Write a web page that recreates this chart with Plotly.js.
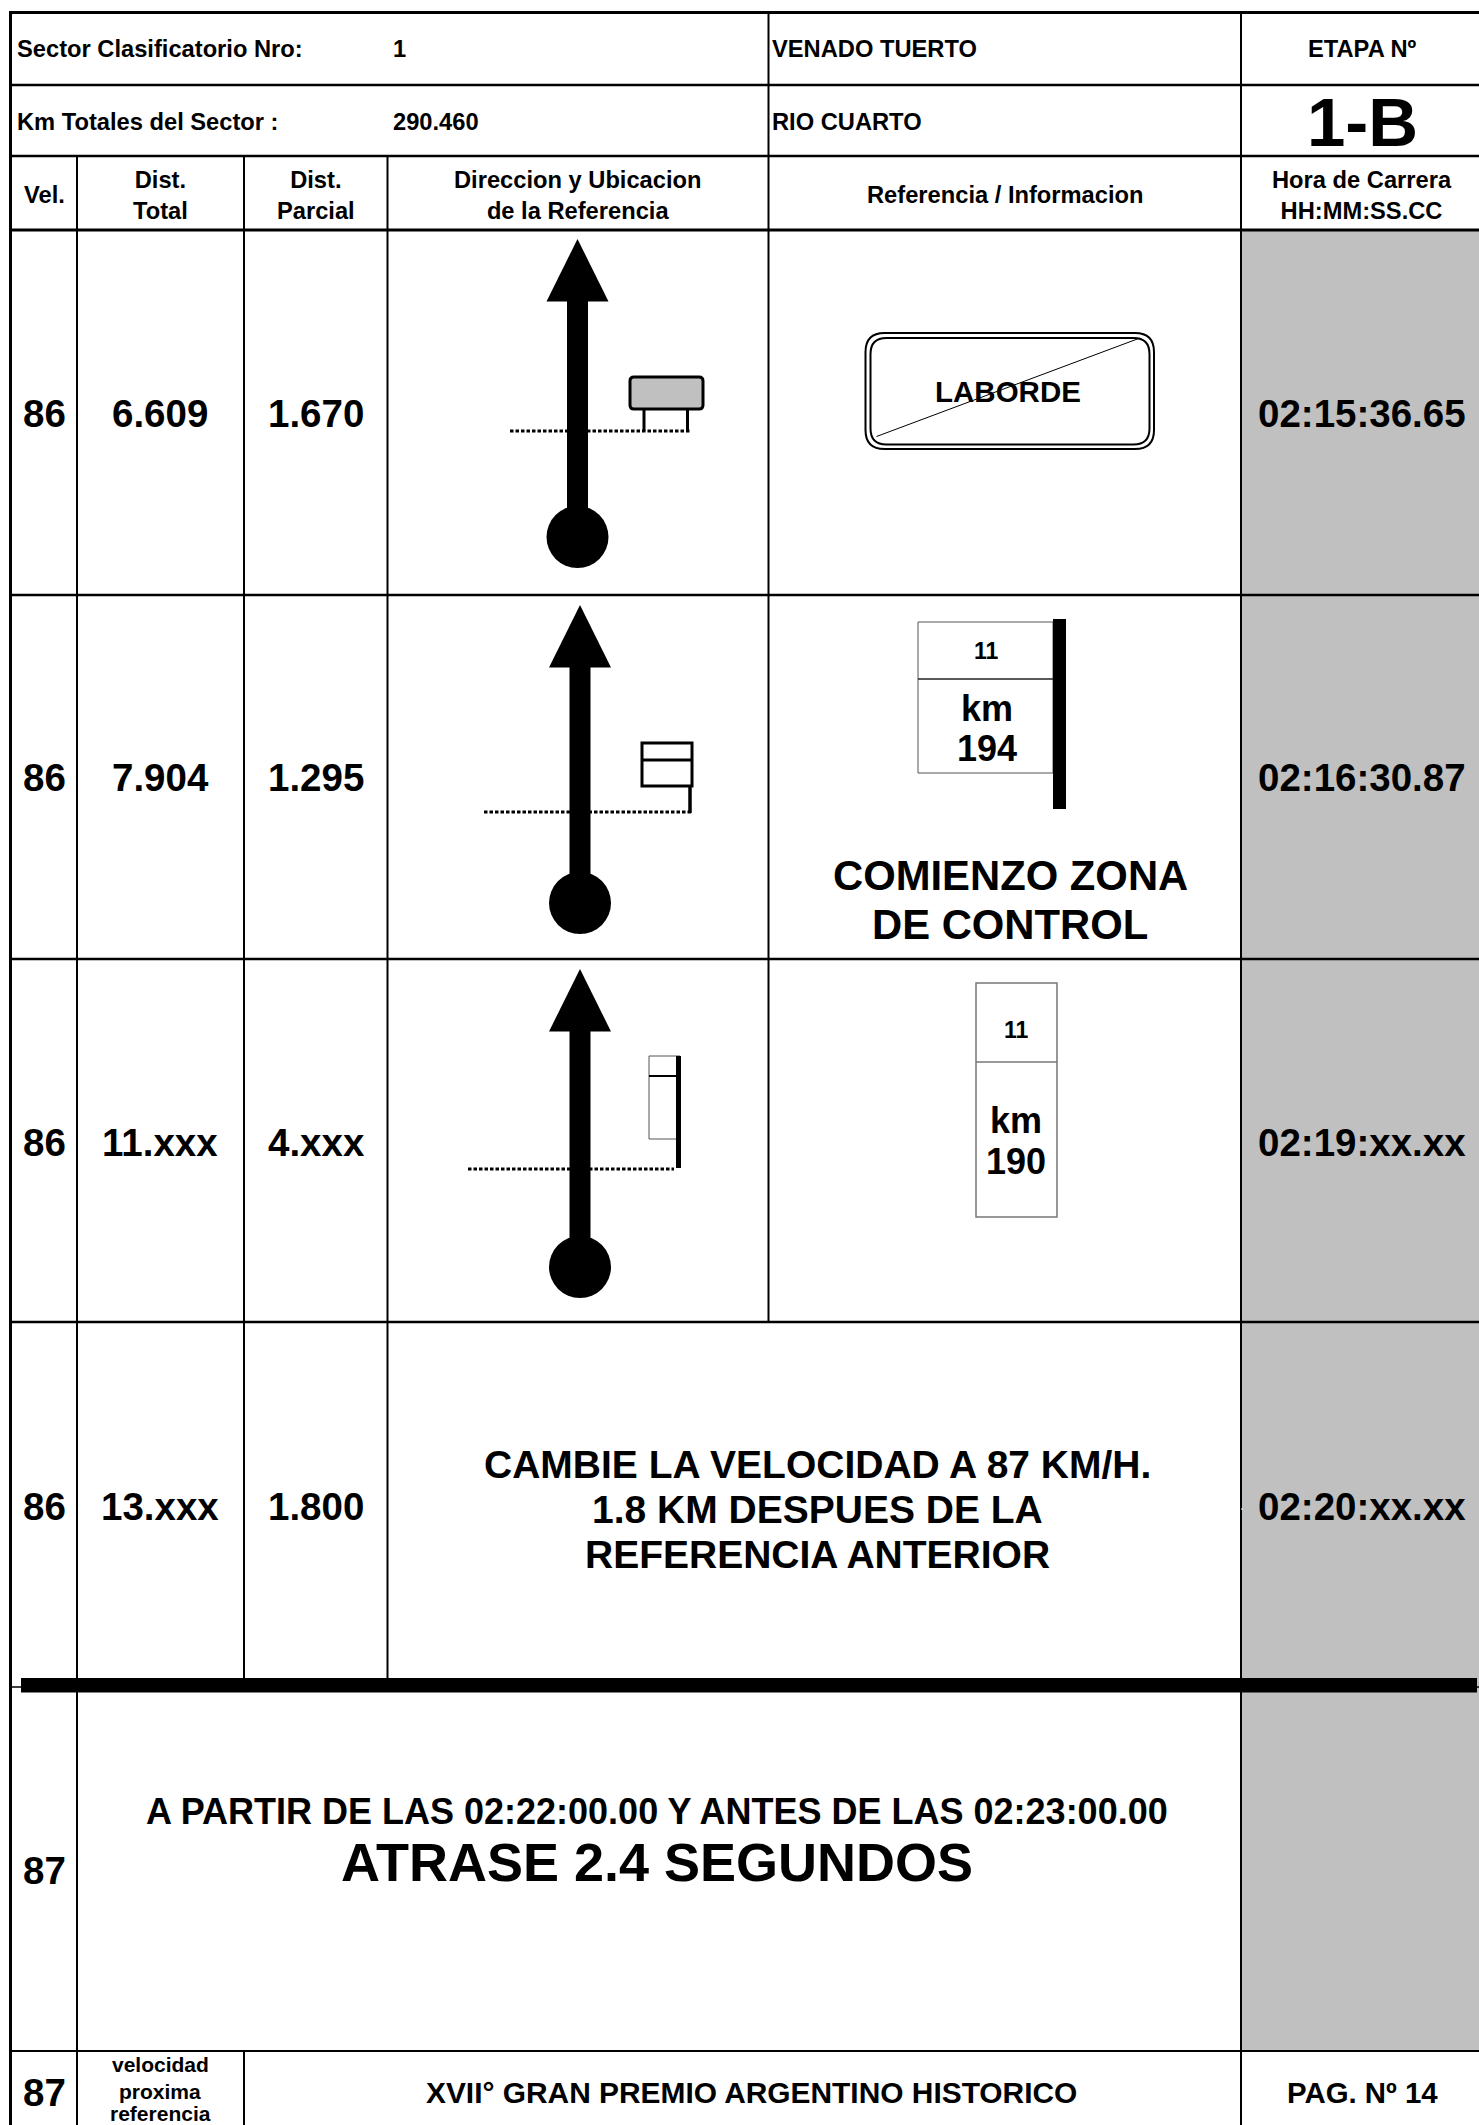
<!DOCTYPE html>
<html><head><meta charset="utf-8">
<script src="https://cdn.plot.ly/plotly-3.0.1.min.js"></script>
<style>html,body{margin:0;padding:0;background:#fff}#c{width:1479px;height:2125px}</style>
</head><body><div id="c"></div>
<script>
// ---- content ----
const velocidades = ["86","86","86","86"];
const distTotal = ["6.609","7.904","11.xxx","13.xxx"];
const distParcial = ["1.670","1.295","4.xxx","1.800"];
const horas = ["02:15:36.65","02:16:30.87","02:19:xx.xx","02:20:xx.xx"];
const sectorLabels = ["Sector Clasificatorio Nro:","Km Totales del Sector :"];
const sectorValues = ["1","290.460"];
const ciudades = ["VENADO TUERTO","RIO CUARTO"];
const etapa = ["ETAPA Nº","1-B"];
const columnas = ["Vel.","Dist.<br>Total","Dist.<br>Parcial","Direccion y Ubicacion<br>de la Referencia","Referencia / Informacion","Hora de Carrera<br>HH:MM:SS.CC"];
const aviso = ["CAMBIE LA VELOCIDAD A 87 KM/H.","1.8 KM DESPUES DE LA","REFERENCIA ANTERIOR"];
const atrase = ["A PARTIR DE LAS 02:22:00.00 Y ANTES DE LAS 02:23:00.00","ATRASE 2.4 SEGUNDOS"];
const velProxima = "87";
const pie = ["velocidad","proxima","referencia","XVII° GRAN PREMIO ARGENTINO HISTORICO","PAG. Nº 14"];
const cartelPueblo = "LABORDE";
const cartelKm = ["11","km","194","COMIENZO ZONA","DE CONTROL","11","km","190"];

// ---- drawing helpers ----
const FONT = "Liberation Sans, Arial, sans-serif";
const shapes = [], annotations = [];
const line = (x0,y0,x1,y1,w,color,dash) => shapes.push({type:"line",xref:"x",yref:"y",x0,y0,x1,y1,line:{width:w,color:color||"#000",dash:dash||"solid"}});
const rect = (x0,y0,x1,y1,fill,w,color) => shapes.push({type:"rect",xref:"x",yref:"y",x0,y0,x1,y1,fillcolor:fill||"rgba(0,0,0,0)",line:{width:w||0,color:color||"#000"}});
const path = (d,fill,w,color) => shapes.push({type:"path",xref:"x",yref:"y",path:d,fillcolor:fill||"rgba(0,0,0,0)",line:{width:w||0,color:color||"#000"}});
const circ = (x0,y0,x1,y1) => shapes.push({type:"circle",xref:"x",yref:"y",x0,y0,x1,y1,fillcolor:"#000",line:{width:0}});
const rr = (x0,y0,x1,y1,r) => `M${x0+r},${y0} L${x1-r},${y0} Q${x1},${y0} ${x1},${y0+r} L${x1},${y1-r} Q${x1},${y1} ${x1-r},${y1} L${x0+r},${y1} Q${x0},${y1} ${x0},${y1-r} L${x0},${y0+r} Q${x0},${y0} ${x0+r},${y0} Z`;
const txt = (text,x,y,size,anchor) => annotations.push({text,x,y,xref:"x",yref:"y",showarrow:false,xanchor:anchor||"center",yanchor:"middle",align:anchor||"center",borderpad:0,font:{family:FONT,size,color:"#000",weight:700}});

// ---- grid ----
rect(1241,230,1479,2051,"#c0c0c0");
[[12.5,3],[85,2.5],[156,2.5],[230,3],[595,2.5],[959,2.5],[1322,2.5],[2051,2]].forEach(([y,w])=>line(10.5,y,1479,y,w));
line(10.5,11,10.5,2125,3);
line(77,156,77,2125,2);
line(244,156,244,1685,2); line(244,2051,244,2125,2);
line(387.5,156,387.5,1685,2);
line(768.5,11,768.5,1322,2);
line(1241,11,1241,2125,2);
line(10,1687,1479,1687,1.5);
rect(21,1678,1477,1692.5,"#000");
line(1241,1509,1243,1509,1,"#fff");

// ---- route arrows ----
[[577.5,239,301.5,537],[580,605,667.5,903],[580,969,1031.5,1267]].forEach(([x,tip,base,cy])=>{
  rect(x-10.5,base-1,x+10.5,cy,"#000");
  path(`M${x},${tip} L${x+31},${base} L${x-31},${base} Z`,"#000");
  circ(x-31,cy-31,x+31,cy+31);
});
const dots = "3.5px,2px";
// row 1 : billboard
shapes.unshift({type:"line",xref:"x",yref:"y",x0:510,y0:431,x1:691,y1:431,line:{width:3,color:"#000",dash:dots}});
line(644,409,644,431,3); line(687.5,409,687.5,431,3);
path(rr(630,377,703,409,4),"#c0c0c0",3);
path(rr(865.5,333,1154,449,19),null,2);
path(rr(870.5,338,1149.5,444.5,16),null,2);
line(876.5,436.5,1140,338,1);
txt(cartelPueblo,1007.5,391,29.5);
// row 2 : km post
shapes.unshift({type:"line",xref:"x",yref:"y",x0:484,y0:812,x1:691,y1:812,line:{width:3,color:"#000",dash:dots}});
rect(642,743,692,786,null,3);
line(642,760,692,760,3);
line(690,786,690,813,3.5);
rect(918,622,1053,773,null,1,"#555");
line(918,679,1053,679,1.5,"#222");
rect(1053,619,1066,809,"#000");
txt(cartelKm[0],986.5,651,23); txt(cartelKm[1],987,708,36); txt(cartelKm[2],987,748,36);
txt(cartelKm[3],1010,875,41.8); txt(cartelKm[4],1010,924,41.8);
// row 3 : km post, small
shapes.unshift({type:"line",xref:"x",yref:"y",x0:468,y0:1169,x1:674,y1:1169,line:{width:3,color:"#000",dash:dots}});
rect(649,1056,680,1139,null,1,"#555");
line(649,1076,681,1076,2);
rect(676,1056,681,1168,"#000");
rect(976,983,1057,1217,null,1.5,"#777");
line(976,1062,1057,1062,1.5,"#777");
txt(cartelKm[5],1016,1030,23); txt(cartelKm[6],1016,1120,36); txt(cartelKm[7],1016,1161,36);

// ---- header text ----
const H = 23.7, BIG = 38.5;
[49,122].forEach((y,i)=>{
  txt(sectorLabels[i],15.5,y,H,"left");
  txt(sectorValues[i],391.5,y,H,"left");
  txt(ciudades[i],771,y,H,"left");
});
txt(etapa[0],1362,49,H); txt(etapa[1],1362,122,69);
[[44,195],[160,195],[316,195],[577,195],[1004.5,195],[1362,195]].forEach(([x,y],i)=>txt(columnas[i],x,y,H));

// ---- rows ----
[413,777,1142,1506].forEach((y,i)=>{
  txt(velocidades[i],44,y,BIG);
  txt(distTotal[i],160,y,BIG);
  txt(distParcial[i],316,y,BIG);
  txt(horas[i],1362,y,BIG);
});
[1464,1509,1554].forEach((y,i)=>txt(aviso[i],817,y,39));
txt(atrase[0],657,1811,36); txt(atrase[1],657,1862,54);
txt(velProxima,44,1870,BIG); txt(velProxima,44,2092,BIG);
txt(pie[0],160,2064,21); txt(pie[1],160,2091,21); txt(pie[2],160,2113,21);
txt(pie[3],751,2092,29.9); txt(pie[4],1362.5,2092,29.4);

const axis = r => ({range:r,visible:false,fixedrange:true,showgrid:false,zeroline:false});
Plotly.newPlot("c",[{x:[0,1479],y:[0,2125],mode:"markers",marker:{opacity:0},hoverinfo:"skip",showlegend:false}],{
  width:1479,height:2125,margin:{l:0,r:0,t:0,b:0,pad:0},paper_bgcolor:"#fff",plot_bgcolor:"#fff",showlegend:false,
  xaxis:axis([0,1479]),yaxis:axis([2125,0]),shapes,annotations
},{staticPlot:true,displayModeBar:false});
</script></body></html>
